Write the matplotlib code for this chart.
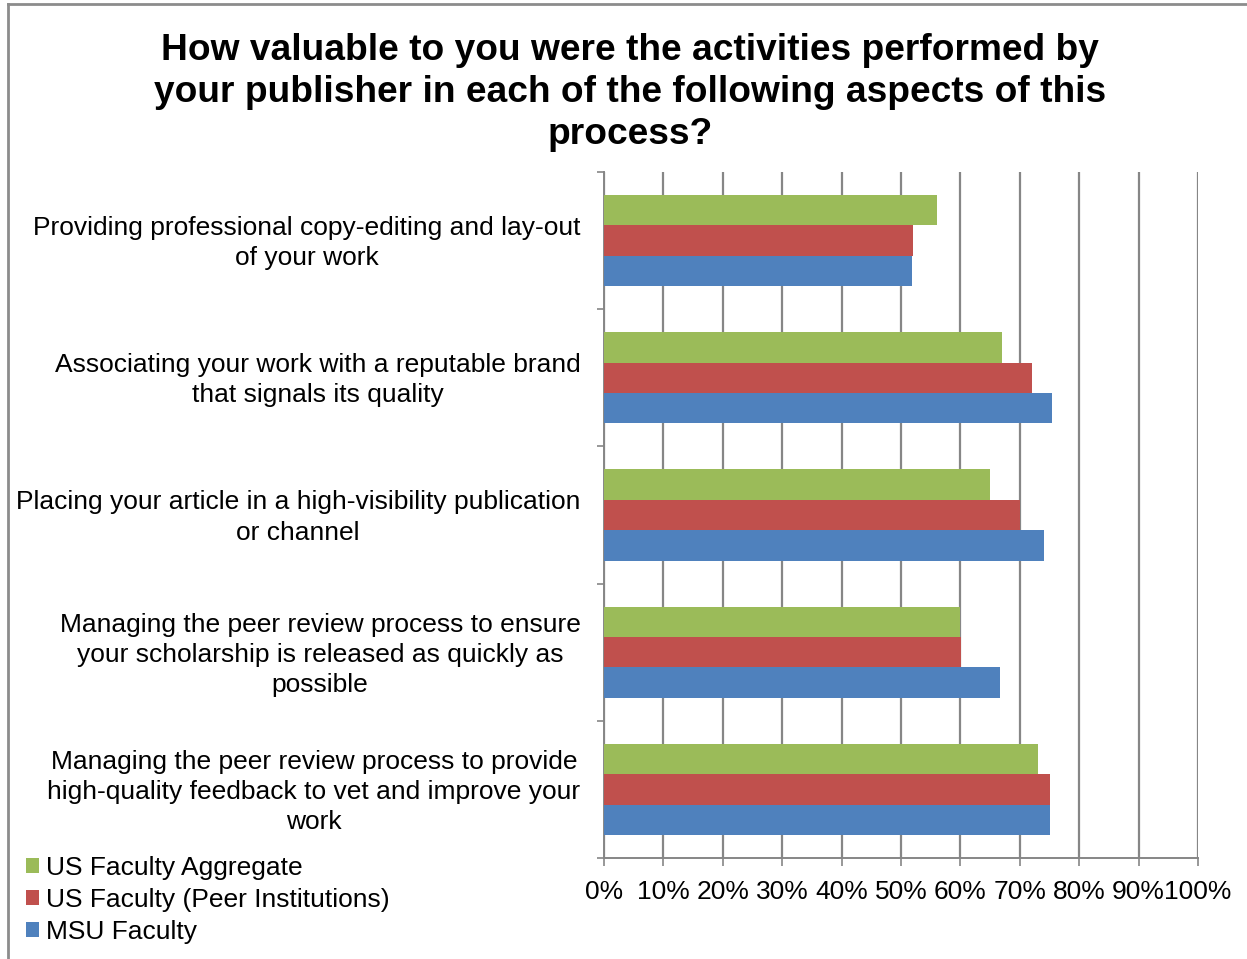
import numpy as np
from matplotlib import pyplot as plt
from matplotlib.lines import Line2D
from matplotlib.ticker import FixedLocator, PercentFormatter
from matplotlib.transforms import ScaledTranslation

plt.rcParams['font.family'] = ['Liberation Sans', 'DejaVu Sans']

TITLE = ('How valuable to you were the activities performed by\n'
         'your publisher in each of the following aspects of this\n'
         'process?')

CATEGORIES = [
    'Providing professional copy-editing and lay-out\nof your work',
    'Associating your work with a reputable brand\nthat signals its quality',
    'Placing your article in a high-visibility publication\nor channel',
    'Managing the peer review process to ensure\nyour scholarship is released as quickly as\npossible',
    'Managing the peer review process to provide\nhigh-quality feedback to vet and improve your\nwork',
]

# percent values
US_AGGREGATE = [56.0, 67.0, 65.0, 60.0, 73.0]
US_PEER = [52.0, 72.0, 70.0, 60.1, 75.0]
MSU = [51.8, 75.5, 74.1, 66.7, 75.1]

SERIES = [
    ('US Faculty Aggregate', US_AGGREGATE, '#9BBB59'),
    ('US Faculty (Peer Institutions)', US_PEER, '#C0504D'),
    ('MSU Faculty', MSU, '#4F81BD'),
]

GRID = '#868686'
FS = 19

fig = plt.figure(figsize=(12.47, 9.59), dpi=100)
ax = fig.add_axes([604 / 1247, 1 - 858 / 959, 594 / 1247, 686 / 959])

y = np.arange(len(CATEGORIES))
h = 0.222
handles = []
for i, (label, values, color) in enumerate(SERIES):
    bars = ax.barh(y + (i - 1) * h, values, height=h, color=color,
                   label=label, zorder=3)
    handles.append(bars)

ax.set_xlim(0, 100)
ax.set_ylim(len(CATEGORIES) - 0.5, -0.5)

ax.xaxis.set_major_locator(FixedLocator(np.arange(0, 101, 10)))
ax.xaxis.set_major_formatter(PercentFormatter(decimals=0))
ax.grid(axis='x', color=GRID, linewidth=1.6, zorder=0)

ax.set_yticks(y)
ax.set_yticklabels(CATEGORIES, multialignment='center', linespacing=1.32)
ax.set_yticks(np.arange(len(CATEGORIES) + 1) - 0.5, minor=True)
ax.tick_params(axis='y', which='major', length=0, pad=17, labelsize=FS)
ax.tick_params(axis='y', which='minor', length=5, width=1.2, color=GRID)
ax.tick_params(axis='x', length=6, width=1.2, color=GRID, labelsize=FS, pad=10)

# nudge the category labels up a little
shift = ScaledTranslation(0, 3 / 100, fig.dpi_scale_trans)
for lbl in ax.get_yticklabels():
    lbl.set_transform(lbl.get_transform() + shift)

for side in ('top', 'right'):
    ax.spines[side].set_visible(False)
for side in ('left', 'bottom'):
    ax.spines[side].set_color(GRID)
    ax.spines[side].set_linewidth(1.4)

fig.text(0.505, 1 - 33 / 959, TITLE, ha='center', va='top',
         fontsize=26.7, fontweight='bold', linespacing=1.25)

leg = fig.legend(handles=handles, loc='lower left',
                 bbox_to_anchor=(13 / 1247, 2 / 959), borderpad=0,
                 frameon=False, fontsize=FS, handlelength=0.5,
                 handleheight=0.5, handletextpad=0.25, labelspacing=0.3)

# chart frame as in the original export
fig.add_artist(Line2D([8 / 1247, 8 / 1247], [0, 1 - 4 / 959],
                      transform=fig.transFigure, color='#8c8c8c', linewidth=2))
fig.add_artist(Line2D([8 / 1247, 1], [1 - 4 / 959, 1 - 4 / 959],
                      transform=fig.transFigure, color='#8c8c8c', linewidth=2))

plt.savefig('out.png')
